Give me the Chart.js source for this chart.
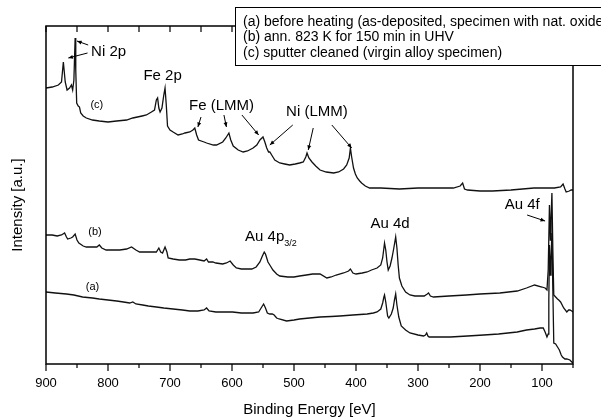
<!DOCTYPE html>
<html>
<head>
<meta charset="utf-8">
<script src="https://cdn.jsdelivr.net/npm/chart.js@4/dist/chart.umd.min.js"></script>
<style>
  html, body { margin: 0; padding: 0; background: #fff; }
</style>
</head>
<body>
<canvas id="xps" width="601" height="417"></canvas>
<script>
// spectra: [binding energy (eV), intensity (a.u.)]
const specA = [
  [900,72],[885,71],[867,70],[855,69],[841,67],[825,66],[814,65],[800,64],[786,63],[775,62],
  [765,61],[760,62],[755,60],[744,59],[735,58],[722,57],[710,56],[695,55],[680,54],[668,53],
  [655,53],[645,54],[641,56],[637,53],[626,52],[610,52],[599,52],[585,51],[566,51],[557,52],
  [553,56],[549,60],[546,56],[543,51],[539,50],[535,50],[532,49],[528,46],[524,45],[512,43],
  [500,44],[491,45],[475,46],[458,47],[440,47.5],[426,48],[405,49],[382,50],[372,51],[366,52],
  [360,55],[357,61],[355,67],[354,69],[352,62],[349,48],[347,46],[343,50],[340,56],[338,64],
  [336,70],[334,59],[331,47],[327,38],[320,34],[313,31],[300,29],[291,28],[288,29],[286,31],
  [284,28],[282,27],[270,27],[248,27],[220,28],[194,29],[170,30],[140,32],[125,34],[112,35],
  [103,36],[98,36],[95,32],[92,27],[90,30],[89,64],[88,119],[86.5,89],[85.5,104],[84,131],
  [82.5,74],[81,21],[78,20],[75,17],[72,14],[69,9],[67,7],[63,5],[60,5],[55,4],[52,2],[50,1]
];
const specB = [
  [900,129],[890,129],[882,128],[875,129],[870,131],[867,127],[865,125],[860,126],[857,127],[853,130],
  [850,124],[847,121],[840,118],[835,117],[825,117],[818,117],[814,119],[810,116],[803,114],[790,114],
  [781,114],[770,115],[762,117],[755,114],[749,112],[735,112],[722,112],[718,116],[715,112],[712,111],
  [708,117],[705,112],[703,106],[695,105],[685,104],[675,104],[668,105],[660,105],[652,104],[645,103],
  [641,105],[638,102],[631,102],[626,101],[615,100],[609,101],[603,103],[598,99],[593,96],[585,95],
  [577,95],[568,95],[561,97],[555,102],[551,108],[548,112],[546,110],[542,102],[538,98],[534,94],
  [528,90],[523,88],[510,87],[500,87],[491,88],[480,89],[470,90],[458,90],[447,86],[440,87],
  [432,89],[420,91],[412,93],[409,95],[405,91],[400,90],[390,91],[382,92],[375,94],[366,96],
  [360,99],[357,106],[355,116],[354,121],[352,114],[350,102],[348,94],[345,98],[342,106],[339,116],
  [336,127],[334,116],[332,99],[330,86],[326,78],[320,72],[313,69],[305,68],[290,68],[285,70],
  [283,71],[280,68],[275,67],[250,68],[222,69],[200,70],[168,71],[140,73],[125,76],[112,79],
  [100,77],[95,76],[92,74],[90,94],[88,159],[86.5,124],[85.5,144],[84,171],[82.5,114],[81,69],
  [78,67],[75,65],[73,64],[70,62],[65,56],[60,52],[57,54],[55,54],[52,53],[50,52]
];
const specC = [
  [900,276],[890,277],[880,279],[875,282],[872,302],[869,282],[866,274],[862,276],[859,279],[857,274],
  [855,284],[853,326],[852,294],[850.5,261],[848,258],[846,257],[844,251],[840,248],[835,246],[825,244],
  [814,243],[800,242],[786,243],[770,244],[760,246],[745,248],[738,249],[730,252],[725,254],[722,264],
  [720,266],[718,256],[716,252],[713,256],[710,269],[708,276],[706,259],[704,238],[700,234],[695,232],
  [687,229],[680,230],[676,231],[668,232],[663,234],[660,236],[657,229],[654,224],[645,222],[641,221],
  [630,219],[625,219],[615,222],[610,226],[605,231],[602,224],[598,218],[590,214],[582,212],[575,213],
  [566,216],[560,219],[555,224],[550,227],[547,222],[544,216],[541,212],[539,212],[535,208],[531,204],
  [523,201],[515,200],[507,199],[498,200],[491,201],[485,202],[481,207],[479,211],[476,206],[471,202],
  [465,198],[458,194],[448,192],[436,191],[428,192],[420,195],[415,199],[411,206],[409,216],[407,207],
  [404,196],[401,190],[398,186],[394,183],[391,181],[385,178],[378,176],[360,176],[330,175],[300,176],
  [270,176],[250,176],[243,176],[232,178],[228,181],[225,175],[220,174],[200,173],[180,173],[150,174],
  [113,176],[100,176],[85,176],[80,176],[70,177],[66,180],[63,175],[61,172],[56,173],[53,174],[50,174]
];

const curveNames = ['(a)', '(b)', '(c)'];
const legendLines = [
  '(a) before heating (as-deposited, specimen with nat. oxide',
  '(b) ann. 823 K for 150 min in UHV',
  '(c) sputter cleaned (virgin alloy specimen)'
];
// peak labels: [text, eV, intensity, font size]
const peakLabels = [
  ['Ni 2p', 799, 312, 15], ['Fe 2p', 712, 288, 15], ['Fe (LMM)', 617, 258, 15],
  ['Ni (LMM)', 463, 252, 15], ['Au 4d', 345, 140, 15], ['Au 4f', 132, 159, 15],
  ['(c)', 818, 259, 11], ['(b)', 821, 132, 11], ['(a)', 825, 77, 11]
];
// arrows: [from eV, from int, to eV, to int]
const arrows = [
  [832, 319, 850, 323], [833, 311, 864, 306],
  [650, 247, 655, 237], [613, 249, 609, 237], [584, 249, 557, 229],
  [502, 239, 539, 219], [469, 236, 477, 214], [439, 239, 407, 216],
  [124, 149, 95, 143]
];

const FONT = '"Liberation Sans", Arial, sans-serif';
Chart.defaults.font.family = FONT;
Chart.defaults.color = '#000';

const decor = {
  id: 'decor',
  afterDatasetsDraw(chart) {
    const { ctx, chartArea: a, scales: { x, y } } = chart;
    ctx.save();
    ctx.strokeStyle = '#000';
    ctx.fillStyle = '#000';
    ctx.lineWidth = 1.5;
    ctx.strokeRect(a.left, a.top, a.right - a.left, a.bottom - a.top);

    // tick marks: outward at bottom, inward at top
    ctx.lineWidth = 1.2;
    x.ticks.forEach(t => {
      const px = x.getPixelForValue(t.value);
      const major = t.value % 100 === 0;
      ctx.beginPath();
      ctx.moveTo(px, a.bottom);
      ctx.lineTo(px, a.bottom + (major ? 7 : 4));
      ctx.moveTo(px, a.top);
      ctx.lineTo(px, a.top + 6);
      ctx.stroke();
    });

    // peak labels
    ctx.textAlign = 'center';
    ctx.textBaseline = 'middle';
    peakLabels.forEach(([txt, e, v, s]) => {
      ctx.font = s + 'px ' + FONT;
      ctx.fillText(txt, x.getPixelForValue(e), y.getPixelForValue(v));
    });
    // Au 4p3/2 with subscript
    ctx.textAlign = 'left';
    ctx.font = '15px ' + FONT;
    const ax = x.getPixelForValue(579), ay = y.getPixelForValue(127);
    ctx.fillText('Au 4p', ax, ay);
    const w = ctx.measureText('Au 4p').width;
    ctx.font = '9px ' + FONT;
    ctx.fillText('3/2', ax + w, ay + 7);

    // arrows
    ctx.lineWidth = 1;
    arrows.forEach(([e1, v1, e2, v2]) => {
      const x1 = x.getPixelForValue(e1), y1 = y.getPixelForValue(v1);
      const x2 = x.getPixelForValue(e2), y2 = y.getPixelForValue(v2);
      const ang = Math.atan2(y2 - y1, x2 - x1);
      ctx.beginPath();
      ctx.moveTo(x1, y1);
      ctx.lineTo(x2, y2);
      ctx.stroke();
      ctx.beginPath();
      ctx.moveTo(x2, y2);
      ctx.lineTo(x2 - 5 * Math.cos(ang - 0.4), y2 - 5 * Math.sin(ang - 0.4));
      ctx.lineTo(x2 - 5 * Math.cos(ang + 0.4), y2 - 5 * Math.sin(ang + 0.4));
      ctx.closePath();
      ctx.fill();
    });

    // y axis title
    ctx.save();
    ctx.translate(18, 205);
    ctx.rotate(-Math.PI / 2);
    ctx.textAlign = 'center';
    ctx.font = '15px ' + FONT;
    ctx.fillText('Intensity [a.u.]', 0, 0);
    ctx.restore();

    // legend box
    ctx.fillStyle = '#fff';
    ctx.fillRect(235, 7, 380, 59);
    ctx.lineWidth = 1;
    ctx.strokeRect(235.5, 7.5, 380, 58);
    ctx.fillStyle = '#000';
    ctx.font = '14px ' + FONT;
    ctx.textAlign = 'left';
    legendLines.forEach((l, i) => ctx.fillText(l, 243, 22 + i * 15.5));
    ctx.restore();
  }
};

const toPts = s => s.map(([e, v]) => ({ x: e, y: v }));

new Chart(document.getElementById('xps'), {
  type: 'line',
  data: {
    datasets: [specA, specB, specC].map((s, i) => ({
      label: curveNames[i],
      data: toPts(s),
      borderColor: '#111',
      borderWidth: 1.3,
      pointRadius: 0,
      fill: false,
      tension: 0
    }))
  },
  options: {
    responsive: false,
    animation: false,
    layout: { padding: { top: 26, right: 28, left: 0, bottom: 0 } },
    plugins: { legend: { display: false }, tooltip: { enabled: false } },
    scales: {
      x: {
        type: 'linear',
        reverse: true,
        min: 50,
        max: 900,
        border: { display: false },
        grid: { display: false, drawTicks: false },
        ticks: {
          stepSize: 50,
          padding: 12,
          font: { size: 13 },
          maxRotation: 0,
          autoSkip: false,
          callback: v => (v % 100 === 0 ? v : '')
        },
        title: {
          display: true,
          text: 'Binding Energy [eV]',
          font: { size: 15, lineHeight: 1 },
          padding: 0
        },
        afterFit: s => { s.height = 53; }
      },
      y: {
        min: 0,
        max: 338,
        border: { display: false },
        grid: { display: false, drawTicks: false },
        ticks: { display: false },
        afterFit: s => { s.width = 46; }
      }
    }
  },
  plugins: [decor]
});
</script>
</body>
</html>
